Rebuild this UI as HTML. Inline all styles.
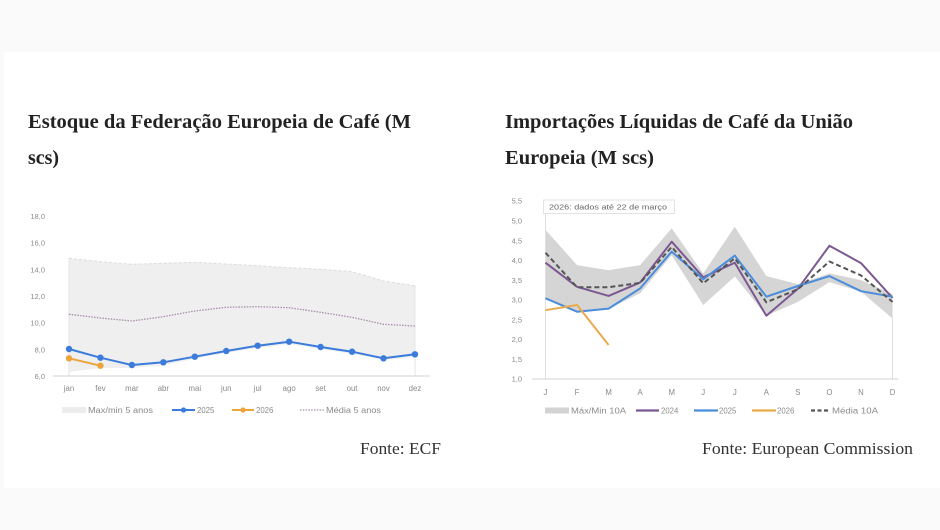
<!DOCTYPE html>
<html>
<head>
<meta charset="utf-8">
<style>
  html,body{margin:0;padding:0;background:#fafafa;}
  svg{display:block;}
</style>
</head>
<body>
<svg width="940" height="530" viewBox="0 0 940 530" xmlns="http://www.w3.org/2000/svg">
  <rect x="0" y="0" width="940" height="530" fill="#fafafa"/>
  <rect x="4" y="52" width="936" height="436" fill="#ffffff"/>

  <!-- Titles -->
  <g font-family="Liberation Serif, serif" font-weight="bold" font-size="19.5" fill="#222">
    <text x="28" y="128" textLength="383" lengthAdjust="spacingAndGlyphs">Estoque da Federação Europeia de Café (M</text>
    <text x="28" y="164" textLength="31" lengthAdjust="spacingAndGlyphs">scs)</text>
    <text x="505" y="128" textLength="348" lengthAdjust="spacingAndGlyphs">Importações Líquidas de Café da União</text>
    <text x="505" y="164" textLength="149" lengthAdjust="spacingAndGlyphs">Europeia (M scs)</text>
  </g>

  <!-- ============ LEFT CHART ============ -->
  <g font-family="Liberation Sans, sans-serif" font-size="7.5" fill="#8a8a8a" text-anchor="end">
    <text x="45" y="219">18,0</text>
    <text x="45" y="245.7">16,0</text>
    <text x="45" y="272.3">14,0</text>
    <text x="45" y="299">12,0</text>
    <text x="45" y="325.7">10,0</text>
    <text x="45" y="352.3">8,0</text>
    <text x="45" y="379">6,0</text>
  </g>
  <!-- band -->
  <polygon fill="#efefef" points="69,258.3 100.45,261.7 131.9,264.3 163.35,263.3 194.8,262.3 226.25,264 257.7,265.7 289.15,267.7 320.6,269.3 352.05,271.7 383.5,281 414.95,285.7 414.95,357 383.5,360 352.05,354 320.6,349 289.15,344 257.7,348 226.25,353 194.8,359 163.35,365 131.9,368 100.45,368 69,372"/>
  <polyline fill="none" stroke="#dcdcdc" stroke-width="1" stroke-dasharray="3 2" points="69,258.3 100.45,261.7 131.9,264.3 163.35,263.3 194.8,262.3 226.25,264 257.7,265.7 289.15,267.7 320.6,269.3 352.05,271.7 383.5,281 414.95,285.7"/>
  <line x1="69" y1="258.3" x2="69" y2="376" stroke="#e4e4e4" stroke-width="1"/>
  <line x1="415" y1="285.7" x2="415" y2="376" stroke="#e4e4e4" stroke-width="1"/>
  <!-- axis -->
  <line x1="53" y1="376" x2="430" y2="376" stroke="#d0d0d0" stroke-width="1"/>
  <!-- media 5 anos -->
  <polyline fill="none" stroke="#a58fa8" stroke-width="1.3" stroke-dasharray="1.5 1.3" points="69,314.3 100.45,318 131.9,321 163.35,316.7 194.8,311 226.25,307.3 257.7,306.7 289.15,307.7 320.6,312.3 352.05,317.3 383.5,324.3 414.95,326"/>
  <!-- 2025 -->
  <polyline fill="none" stroke="#3b7bdc" stroke-width="2" stroke-linejoin="round" points="69,349 100.45,357.7 131.9,365 163.35,362.3 194.8,356.7 226.25,351 257.7,345.7 289.15,341.7 320.6,347 352.05,351.7 383.5,358.3 414.95,354.3"/>
  <g fill="#3b7bdc">
    <circle cx="69" cy="349" r="3.2"/><circle cx="100.45" cy="357.7" r="3.2"/><circle cx="131.9" cy="365" r="3.2"/><circle cx="163.35" cy="362.3" r="3.2"/><circle cx="194.8" cy="356.7" r="3.2"/><circle cx="226.25" cy="351" r="3.2"/><circle cx="257.7" cy="345.7" r="3.2"/><circle cx="289.15" cy="341.7" r="3.2"/><circle cx="320.6" cy="347" r="3.2"/><circle cx="352.05" cy="351.7" r="3.2"/><circle cx="383.5" cy="358.3" r="3.2"/><circle cx="414.95" cy="354.3" r="3.2"/>
  </g>
  <!-- 2026 -->
  <polyline fill="none" stroke="#eba53c" stroke-width="2" points="69,358.3 100.45,365.7"/>
  <g fill="#eba53c"><circle cx="69" cy="358.3" r="3.2"/><circle cx="100.45" cy="365.7" r="3.2"/></g>
  <!-- month labels -->
  <g font-family="Liberation Sans, sans-serif" font-size="7.8" fill="#8a8a8a" text-anchor="middle">
    <text x="69" y="391">jan</text><text x="100.45" y="391">fev</text><text x="131.9" y="391">mar</text><text x="163.35" y="391">abr</text><text x="194.8" y="391">mai</text><text x="226.25" y="391">jun</text><text x="257.7" y="391">jul</text><text x="289.15" y="391">ago</text><text x="320.6" y="391">set</text><text x="352.05" y="391">out</text><text x="383.5" y="391">nov</text><text x="414.95" y="391">dez</text>
  </g>
  <!-- left legend -->
  <rect x="62" y="407" width="24" height="6" fill="#ececec"/>
  <line x1="172" y1="410" x2="195" y2="410" stroke="#3b7bdc" stroke-width="2"/>
  <circle cx="183.5" cy="410" r="2.6" fill="#3b7bdc"/>
  <line x1="232" y1="410" x2="254" y2="410" stroke="#eba53c" stroke-width="2"/>
  <circle cx="243" cy="410" r="2.6" fill="#eba53c"/>
  <line x1="300" y1="410" x2="324" y2="410" stroke="#a58fa8" stroke-width="1.2" stroke-dasharray="1.5 1.3"/>
  <g font-family="Liberation Sans, sans-serif" font-size="7.8" fill="#8a8a8a">
    <text x="88" y="412.8" textLength="65" lengthAdjust="spacingAndGlyphs">Max/min 5 anos</text>
    <text x="197" y="412.8">2025</text>
    <text x="256" y="412.8">2026</text>
    <text x="326" y="412.8" textLength="55" lengthAdjust="spacingAndGlyphs">Média 5 anos</text>
  </g>

  <!-- ============ RIGHT CHART ============ -->
  <g font-family="Liberation Sans, sans-serif" font-size="7.5" fill="#8a8a8a" text-anchor="end">
    <text x="522" y="203.7">5,5</text>
    <text x="522" y="223.5">5,0</text>
    <text x="522" y="243.3">4,5</text>
    <text x="522" y="263">4,0</text>
    <text x="522" y="282.8">3,5</text>
    <text x="522" y="302.6">3,0</text>
    <text x="522" y="322.4">2,5</text>
    <text x="522" y="342.2">2,0</text>
    <text x="522" y="361.9">1,5</text>
    <text x="522" y="381.7">1,0</text>
  </g>
  <!-- band -->
  <polygon fill="#d5d5d5" points="545.5,229.9 577.05,265.1 608.6,270.2 640.15,265.1 671.7,228.3 703.25,273.4 734.8,226.7 766.35,276.1 797.9,284.1 829.45,273.4 861,280.1 892.55,294 892.55,318.5 861,291.6 829.45,282.1 797.9,301.9 766.35,315.7 734.8,276.5 703.25,305 671.7,255.2 640.15,293.2 608.6,309 577.05,311.7 545.5,298.7"/>
  <line x1="545.5" y1="213" x2="545.5" y2="379" stroke="#e0e0e0" stroke-width="1"/>
  <line x1="892.5" y1="318" x2="892.5" y2="379" stroke="#e0e0e0" stroke-width="1"/>
  <line x1="532" y1="379" x2="898" y2="379" stroke="#d0d0d0" stroke-width="1"/>
  <!-- annotation -->
  <rect x="543.5" y="200" width="131" height="13.5" fill="#ffffff" stroke="#dcdcdc" stroke-width="0.8"/>
  <text x="549" y="209.5" font-family="Liberation Sans, sans-serif" font-size="7.3" fill="#666" textLength="118" lengthAdjust="spacingAndGlyphs">2026: dados até 22 de março</text>
  <!-- 2024 -->
  <polyline fill="none" stroke="#7c5892" stroke-width="2" stroke-linejoin="round" points="545.5,262.7 577.05,286.8 608.6,295.9 640.15,282.5 671.7,241.7 703.25,277.3 734.8,262.7 766.35,315.7 797.9,288.8 829.45,245.7 861,263.1 892.55,297.9"/>
  <!-- 2025 -->
  <polyline fill="none" stroke="#4a8ddb" stroke-width="2" stroke-linejoin="round" points="545.5,298.3 577.05,311.7 608.6,308.6 640.15,288.4 671.7,251.6 703.25,279.3 734.8,255.6 766.35,296.7 797.9,286 829.45,276.1 861,291.2 892.55,296.7"/>
  <!-- 2026 -->
  <polyline fill="none" stroke="#eaaa4a" stroke-width="2" stroke-linejoin="round" points="545.5,310.2 577.05,305 608.6,345"/>
  <!-- media 10A -->
  <polyline fill="none" stroke="#555555" stroke-width="2" stroke-dasharray="5 3" stroke-linejoin="round" points="545.5,252.8 577.05,287.2 608.6,287.2 640.15,282.9 671.7,246.9 703.25,283.3 734.8,258.3 766.35,302.3 797.9,289.2 829.45,261.5 861,275.4 892.55,301.9"/>
  <!-- month labels -->
  <g font-family="Liberation Sans, sans-serif" font-size="7.8" fill="#8a8a8a" text-anchor="middle">
    <text x="545.5" y="395">J</text><text x="577.05" y="395">F</text><text x="608.6" y="395">M</text><text x="640.15" y="395">A</text><text x="671.7" y="395">M</text><text x="703.25" y="395">J</text><text x="734.8" y="395">J</text><text x="766.35" y="395">A</text><text x="797.9" y="395">S</text><text x="829.45" y="395">O</text><text x="861" y="395">N</text><text x="892.55" y="395">D</text>
  </g>
  <!-- right legend -->
  <rect x="545" y="407.5" width="24" height="6" fill="#d3d3d3"/>
  <line x1="636" y1="410.5" x2="659" y2="410.5" stroke="#7c5892" stroke-width="2.2"/>
  <line x1="694" y1="410.5" x2="718" y2="410.5" stroke="#4a8ddb" stroke-width="2.2"/>
  <line x1="752" y1="410.5" x2="776" y2="410.5" stroke="#eaaa4a" stroke-width="2.2"/>
  <line x1="811" y1="410.5" x2="829" y2="410.5" stroke="#555555" stroke-width="2.2" stroke-dasharray="4 2.5"/>
  <g font-family="Liberation Sans, sans-serif" font-size="7.8" fill="#8a8a8a">
    <text x="571" y="413.3" textLength="55" lengthAdjust="spacingAndGlyphs">Máx/Min 10A</text>
    <text x="661" y="413.3">2024</text>
    <text x="719" y="413.3">2025</text>
    <text x="777" y="413.3">2026</text>
    <text x="832" y="413.3" textLength="46" lengthAdjust="spacingAndGlyphs">Média 10A</text>
  </g>

  <!-- Sources -->
  <g font-family="Liberation Serif, serif" font-size="17" fill="#333">
    <text x="360" y="454" textLength="81" lengthAdjust="spacingAndGlyphs">Fonte: ECF</text>
    <text x="702" y="454" textLength="211" lengthAdjust="spacingAndGlyphs">Fonte: European Commission</text>
  </g>
</svg>
</body>
</html>
